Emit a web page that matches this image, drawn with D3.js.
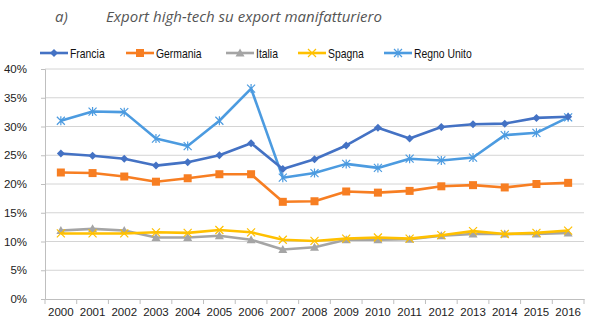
<!DOCTYPE html>
<html>
<head>
<meta charset="utf-8">
<script src="https://cdn.jsdelivr.net/npm/d3@7"></script>
<style>
  body { margin: 0; background: #fff; }
  svg { display: block; }
</style>
</head>
<body>
<script>
// anni e valori (% export high-tech su export manifatturiero)
var years = ["2000","2001","2002","2003","2004","2005","2006","2007","2008",
             "2009","2010","2011","2012","2013","2014","2015","2016"];
var francia   = [25.3,24.9,24.4,23.2,23.8,25.0,27.1,22.6,24.3,26.7,29.8,27.9,29.9,30.4,30.5,31.5,31.7];
var germania  = [22.0,21.9,21.3,20.4,21.0,21.7,21.7,16.9,17.0,18.7,18.5,18.8,19.6,19.8,19.4,20.0,20.2];
var italia    = [11.9,12.2,11.9,10.7,10.7,11.0,10.3,8.6,9.0,10.3,10.3,10.4,11.0,11.3,11.3,11.3,11.5];
var spagna    = [11.4,11.4,11.4,11.6,11.5,12.0,11.6,10.3,10.1,10.5,10.7,10.5,11.1,11.8,11.3,11.5,11.9];
var regnoUnito= [31.0,32.6,32.5,27.9,26.6,31.0,36.6,21.1,21.9,23.5,22.8,24.4,24.1,24.6,28.5,28.9,31.6];
var yTicks = [0,5,10,15,20,25,30,35,40];

var series = [
  {name: "Francia", values: francia, color: "#4472C4", marker: "diamond"},
  {name: "Germania", values: germania, color: "#F77E22", marker: "square"},
  {name: "Italia", values: italia, color: "#A5A5A5", marker: "triangle"},
  {name: "Spagna", values: spagna, color: "#FFC000", marker: "cross"},
  {name: "Regno Unito", values: regnoUnito, color: "#4C9BE0", marker: "star"}
];

var W = 601, H = 328;
var svg = d3.select("body").append("svg")
  .attr("width", W)
  .attr("height", H);

// titolo
svg.append("text")
  .attr("x", 55).attr("y", 22)
  .attr("font-family", "Open Sans, sans-serif")
  .attr("font-style", "italic")
  .attr("font-size", 15)
  .attr("fill", "#555")
  .text("a)");
svg.append("text")
  .attr("x", 106).attr("y", 22)
  .attr("font-family", "Open Sans, sans-serif")
  .attr("font-style", "italic")
  .attr("font-size", 15)
  .attr("fill", "#555")
  .attr("textLength", 276)
  .text("Export high-tech su export manifatturiero");

var x = d3.scaleBand().domain(years).range([45, 584]);
var y = d3.scaleLinear().domain([0, 40]).range([299, 69]);

// griglia
svg.append("g")
  .selectAll("line")
  .data(yTicks.filter(d => d > 0))
  .join("line")
  .attr("x1", 45).attr("x2", 584)
  .attr("y1", d => y(d)).attr("y2", d => y(d))
  .attr("stroke", "#d4d4d4")
  .attr("stroke-width", 1);

// asse y
var yAxis = svg.append("g")
  .attr("transform", "translate(45,0)")
  .call(d3.axisLeft(y).tickValues(yTicks).tickFormat(d => d + "%").tickSize(4).tickPadding(14));
yAxis.selectAll("path, line").attr("stroke", "#bfbfbf");
yAxis.selectAll("text")
  .attr("font-family", "Liberation Sans, Arial, sans-serif")
  .attr("font-size", 11.5)
  .attr("fill", "#222");

// asse x
var xAxis = svg.append("g")
  .attr("transform", "translate(0,299)")
  .call(d3.axisBottom(x).tickSize(0).tickPadding(9));
xAxis.select(".domain").attr("stroke", "#bfbfbf");
xAxis.selectAll("text")
  .attr("font-family", "Liberation Sans, Arial, sans-serif")
  .attr("font-size", 11.5)
  .attr("fill", "#222");
svg.append("g")
  .selectAll("line")
  .data(years.concat(["end"]))
  .join("line")
  .attr("x1", (d, i) => 45 + i * x.step())
  .attr("x2", (d, i) => 45 + i * x.step())
  .attr("y1", 299).attr("y2", 304)
  .attr("stroke", "#bfbfbf");

function marker(g, type, color) {
  if (type === "diamond") {
    g.append("path").attr("d", "M0,-4L4,0L0,4L-4,0Z").attr("fill", color);
  } else if (type === "square") {
    g.append("rect").attr("x", -4).attr("y", -4).attr("width", 8).attr("height", 8).attr("fill", color);
  } else if (type === "triangle") {
    g.append("path").attr("d", "M0,-4.5L4.5,3.5L-4.5,3.5Z").attr("fill", color);
  } else if (type === "cross") {
    g.append("path").attr("d", "M-4,-4L4,4M4,-4L-4,4").attr("stroke", color).attr("stroke-width", 1.2);
  } else if (type === "star") {
    g.append("path").attr("d", "M-4,-4L4,4M4,-4L-4,4M0,-4.5L0,4.5").attr("stroke", color).attr("stroke-width", 1.2);
  }
}

var line = d3.line()
  .x((d, i) => x(years[i]) + x.bandwidth() / 2)
  .y(d => y(d));

// ordine di disegno
var drawOrder = ["Italia", "Spagna", "Germania", "Regno Unito", "Francia"];
drawOrder.forEach(function (name) {
  var s = series.find(d => d.name === name);
  var g = svg.append("g");
  g.append("path")
    .attr("d", line(s.values))
    .attr("fill", "none")
    .attr("stroke", s.color)
    .attr("stroke-width", 2.6)
    .attr("stroke-linejoin", "round");
  s.values.forEach(function (v, i) {
    var m = g.append("g")
      .attr("transform", "translate(" + (x(years[i]) + x.bandwidth() / 2) + "," + y(v) + ")");
    marker(m, s.marker, s.color);
  });
});

// legenda (testo stretto come Arial Narrow)
var legX = [40, 126, 226, 298, 384];
series.forEach(function (s, i) {
  var g = svg.append("g").attr("transform", "translate(" + legX[i] + ",53)");
  g.append("line").attr("x1", 0).attr("x2", 28).attr("y1", 0).attr("y2", 0)
    .attr("stroke", s.color).attr("stroke-width", 2.6);
  var m = g.append("g").attr("transform", "translate(14,0)");
  marker(m, s.marker, s.color);
  g.append("text")
    .attr("transform", "translate(30,4.5) scale(0.8,1)")
    .attr("font-family", "Liberation Sans, Arial, sans-serif")
    .attr("font-size", 13)
    .attr("fill", "#111")
    .text(s.name);
});
</script>
</body>
</html>
